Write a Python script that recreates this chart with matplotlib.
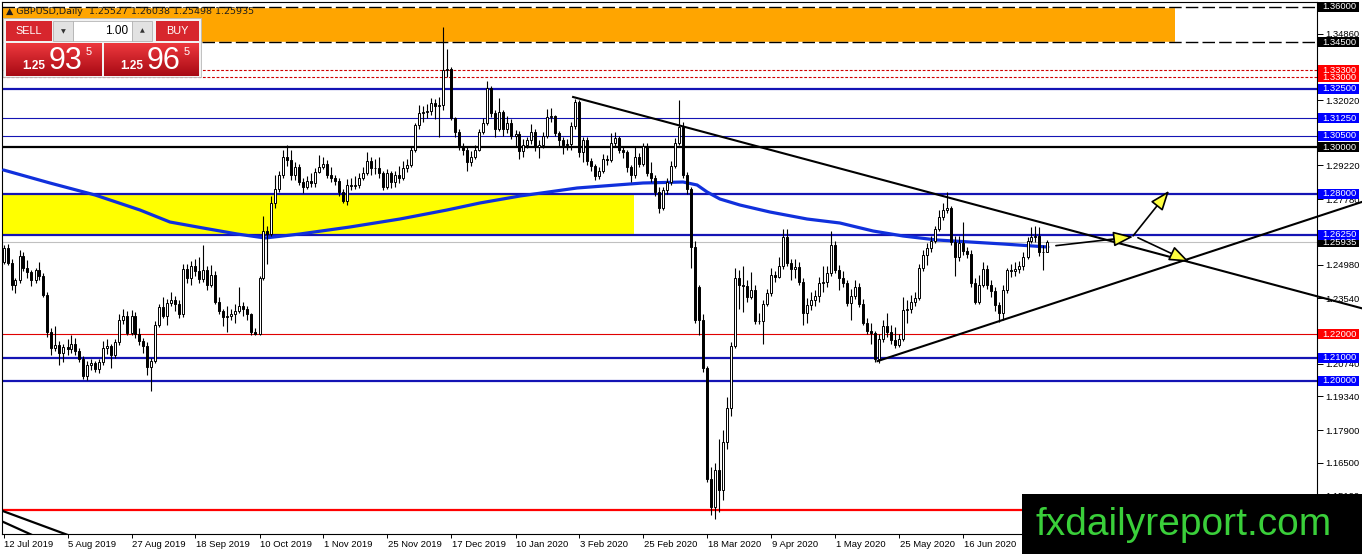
import matplotlib
matplotlib.use('Agg')
import matplotlib.pyplot as plt
import matplotlib.transforms as mtransforms
from matplotlib.patches import Rectangle, FancyArrowPatch
import numpy as np

plt.rcParams['font.family'] = ['Liberation Sans', 'DejaVu Sans']

# ---------------- data ----------------
opens = [1.2510, 1.2570, 1.2505, 1.2410, 1.2430, 1.2535, 1.2485, 1.2465, 1.2430, 1.2475,
         1.2448, 1.2370, 1.2210, 1.2140, 1.2155, 1.2120, 1.2145, 1.2135, 1.2160, 1.2130,
         1.2095, 1.2020, 1.2070, 1.2075, 1.2050, 1.2080, 1.2140, 1.2150, 1.2110, 1.2165,
         1.2260, 1.2280, 1.2205, 1.2280, 1.2200, 1.2170, 1.2150, 1.2060, 1.2085, 1.2240,
         1.2315, 1.2280, 1.2335, 1.2345, 1.2330, 1.2285, 1.2480, 1.2440, 1.2490, 1.2470,
         1.2435, 1.2475, 1.2410, 1.2455, 1.2340, 1.2300, 1.2275, 1.2280, 1.2285, 1.2300,
         1.2320, 1.2310, 1.2285, 1.2210, 1.2200, 1.2440, 1.2640, 1.2630, 1.2760, 1.2820,
         1.2880, 1.2960, 1.2945, 1.2880, 1.2915, 1.2850, 1.2830, 1.2855, 1.2845, 1.2895,
         1.2915, 1.2930, 1.2880, 1.2870, 1.2855, 1.2810, 1.2770, 1.2840, 1.2835, 1.2840,
         1.2870, 1.2890, 1.2940, 1.2910, 1.2912, 1.2890, 1.2830, 1.2890, 1.2850, 1.2880,
         1.2870, 1.2910, 1.2925, 1.2990, 1.3095, 1.3145, 1.3150, 1.3155, 1.3190, 1.3175,
         1.3180, 1.3330, 1.3335, 1.3125, 1.3065, 1.3000, 1.2990, 1.2935, 1.2960, 1.2990,
         1.3065, 1.3105, 1.3255, 1.3145, 1.3080, 1.3150, 1.3080, 1.3105, 1.3050, 1.3055,
         1.2985, 1.3010, 1.3030, 1.3065, 1.3000, 1.3010, 1.3050, 1.3130, 1.3135, 1.3060,
         1.3030, 1.3010, 1.3012, 1.3090, 1.3195, 1.2980, 1.3030, 1.2940, 1.2920, 1.2875,
         1.2900, 1.2950, 1.2945, 1.3020, 1.3040, 1.2990, 1.2980, 1.2915, 1.2880, 1.2960,
         1.2930, 1.3005, 1.2890, 1.2870, 1.2810, 1.2740, 1.2815, 1.2850, 1.2920, 1.3020,
         1.3085, 1.2880, 1.2820, 1.2575, 1.2400, 1.2260, 1.2055, 1.1580, 1.1460, 1.1620,
         1.1535, 1.1740, 1.1885, 1.2150, 1.2440, 1.2410, 1.2405, 1.2360, 1.2390, 1.2255,
         1.2258, 1.2330, 1.2375, 1.2455, 1.2445, 1.2490, 1.2615, 1.2505, 1.2480, 1.2488,
         1.2425, 1.2290, 1.2325, 1.2345, 1.2365, 1.2420, 1.2425, 1.2460, 1.2580, 1.2475,
         1.2440, 1.2420, 1.2335, 1.2365, 1.2400, 1.2330, 1.2250, 1.2215, 1.2205, 1.2095,
         1.2180, 1.2235, 1.2210, 1.2175, 1.2155, 1.2180, 1.2305, 1.2310, 1.2340, 1.2355,
         1.2485, 1.2540, 1.2570, 1.2600, 1.2650, 1.2700, 1.2730, 1.2740, 1.2595, 1.2530,
         1.2590, 1.2555, 1.2545, 1.2420, 1.2340, 1.2410, 1.2480, 1.2411, 1.2385, 1.2325,
         1.2290, 1.2390, 1.2475, 1.2470, 1.2480, 1.2490, 1.2530, 1.2600, 1.2615, 1.2620,
         1.2550, 1.25527]

highs = [1.2580, 1.2585, 1.2520, 1.2440, 1.2560, 1.2550, 1.2518, 1.2475, 1.2485, 1.2510,
         1.2460, 1.2380, 1.2225, 1.2235, 1.2170, 1.2160, 1.2180, 1.2197, 1.2185, 1.2140,
         1.2105, 1.2085, 1.2095, 1.2085, 1.2095, 1.2170, 1.2180, 1.2160, 1.2180, 1.2285,
         1.2310, 1.2300, 1.2305, 1.2295, 1.2227, 1.2185, 1.2165, 1.2100, 1.2255, 1.2330,
         1.2360, 1.2350, 1.2380, 1.2365, 1.2345, 1.2500, 1.2500, 1.2515, 1.2520, 1.2530,
         1.2580, 1.2490, 1.2496, 1.2470, 1.2360, 1.2310, 1.2320, 1.2310, 1.2330, 1.2402,
         1.2340, 1.2320, 1.2290, 1.2225, 1.2450, 1.2705, 1.2665, 1.2790, 1.2880, 1.2900,
         1.2990, 1.3010, 1.2990, 1.2935, 1.2930, 1.2870, 1.2875, 1.2890, 1.2910, 1.2967,
         1.2960, 1.2945, 1.2916, 1.2880, 1.2870, 1.2820, 1.2865, 1.2870, 1.2875, 1.2890,
         1.2915, 1.2980, 1.2960, 1.2950, 1.2960, 1.2900, 1.2905, 1.2900, 1.2900, 1.2920,
         1.2940, 1.2950, 1.3000, 1.3105, 1.3181, 1.3175, 1.3185, 1.3211, 1.3205, 1.3215,
         1.3514, 1.3420, 1.3345, 1.3130, 1.3080, 1.3020, 1.3000, 1.2985, 1.3010, 1.3080,
         1.3125, 1.3285, 1.3260, 1.3160, 1.3211, 1.3160, 1.3135, 1.3120, 1.3075, 1.3070,
         1.3035, 1.3045, 1.3100, 1.3080, 1.3030, 1.3065, 1.3165, 1.3170, 1.3140, 1.3070,
         1.3045, 1.3035, 1.3110, 1.3208, 1.3200, 1.3045, 1.3045, 1.2955, 1.2930, 1.2915,
         1.2970, 1.2965, 1.3060, 1.3065, 1.3050, 1.3000, 1.2990, 1.2925, 1.3000, 1.2975,
         1.3020, 1.3020, 1.2935, 1.2880, 1.2830, 1.2830, 1.2870, 1.2940, 1.3040, 1.3200,
         1.3110, 1.2895, 1.2830, 1.2600, 1.2410, 1.2285, 1.2065, 1.1630, 1.1650, 1.1750,
         1.1790, 1.1930, 1.2167, 1.2485, 1.2475, 1.2490, 1.2430, 1.2465, 1.2410, 1.2290,
         1.2345, 1.2395, 1.2483, 1.2470, 1.2530, 1.2650, 1.2650, 1.2520, 1.2520, 1.2510,
         1.2440, 1.2355, 1.2380, 1.2390, 1.2445, 1.2490, 1.2490, 1.2640, 1.2600, 1.2495,
         1.2470, 1.2430, 1.2395, 1.2432, 1.2420, 1.2350, 1.2270, 1.2250, 1.2215, 1.2200,
         1.2260, 1.2290, 1.2240, 1.2230, 1.2200, 1.2360, 1.2345, 1.2370, 1.2380, 1.2500,
         1.2560, 1.2591, 1.2620, 1.2665, 1.2730, 1.2760, 1.2810, 1.2750, 1.2620, 1.2620,
         1.2680, 1.2575, 1.2560, 1.2440, 1.2455, 1.2510, 1.2495, 1.2430, 1.2400, 1.2340,
         1.2410, 1.2485, 1.2500, 1.2510, 1.2515, 1.2550, 1.2615, 1.2659, 1.2665, 1.2660,
         1.2580, 1.26038]

lows = [1.2500, 1.2495, 1.2390, 1.2377, 1.2420, 1.2470, 1.2440, 1.2405, 1.2420, 1.2430,
        1.2360, 1.2190, 1.2111, 1.2130, 1.2070, 1.2080, 1.2110, 1.2120, 1.2110, 1.2080,
        1.2010, 1.2004, 1.2045, 1.2040, 1.2035, 1.2070, 1.2115, 1.2056, 1.2100, 1.2155,
        1.2245, 1.2195, 1.2195, 1.2185, 1.2155, 1.2120, 1.2026, 1.1958, 1.2075, 1.2230,
        1.2270, 1.2240, 1.2320, 1.2300, 1.2270, 1.2275, 1.2420, 1.2410, 1.2450, 1.2420,
        1.2425, 1.2390, 1.2400, 1.2330, 1.2285, 1.2235, 1.2210, 1.2260, 1.2250, 1.2290,
        1.2280, 1.2260, 1.2195, 1.2195, 1.2195, 1.2430, 1.2500, 1.2620, 1.2740, 1.2810,
        1.2870, 1.2920, 1.2860, 1.2860, 1.2840, 1.2805, 1.2820, 1.2830, 1.2830, 1.2890,
        1.2905, 1.2870, 1.2850, 1.2840, 1.2790, 1.2762, 1.2755, 1.2815, 1.2820, 1.2825,
        1.2860, 1.2880, 1.2880, 1.2885, 1.2870, 1.2815, 1.2820, 1.2825, 1.2830, 1.2845,
        1.2860, 1.2895, 1.2915, 1.2980, 1.3080, 1.3110, 1.3125, 1.3140, 1.3120, 1.3045,
        1.3160, 1.3300, 1.3115, 1.3044, 1.2990, 1.2965, 1.2900, 1.2920, 1.2950, 1.2985,
        1.3055, 1.3095, 1.3130, 1.3045, 1.3070, 1.3050, 1.3060, 1.3035, 1.3000, 1.2950,
        1.2960, 1.2995, 1.3015, 1.2985, 1.2954, 1.2995, 1.3040, 1.3110, 1.3050, 1.3000,
        1.2970, 1.2990, 1.2990, 1.3080, 1.2960, 1.2937, 1.2925, 1.2900, 1.2860, 1.2865,
        1.2890, 1.2925, 1.2935, 1.3000, 1.2975, 1.2955, 1.2895, 1.2851, 1.2870, 1.2915,
        1.2920, 1.2875, 1.2850, 1.2790, 1.2719, 1.2730, 1.2800, 1.2840, 1.2910, 1.3010,
        1.2870, 1.2800, 1.2485, 1.2250, 1.2197, 1.2040, 1.1570, 1.1427, 1.1409, 1.1440,
        1.1491, 1.1710, 1.1850, 1.2140, 1.2310, 1.2295, 1.2340, 1.2350, 1.2245, 1.2245,
        1.2160, 1.2320, 1.2365, 1.2425, 1.2440, 1.2480, 1.2490, 1.2432, 1.2440, 1.2410,
        1.2240, 1.2250, 1.2305, 1.2320, 1.2340, 1.2380, 1.2400, 1.2450, 1.2460, 1.2390,
        1.2400, 1.2320, 1.2261, 1.2350, 1.2315, 1.2240, 1.2200, 1.2160, 1.2081, 1.2075,
        1.2165, 1.2190, 1.2160, 1.2140, 1.2145, 1.2170, 1.2248, 1.2290, 1.2320, 1.2345,
        1.2470, 1.2496, 1.2550, 1.2590, 1.2640, 1.2690, 1.2720, 1.2580, 1.2450, 1.2515,
        1.2540, 1.2525, 1.2400, 1.2330, 1.2330, 1.2400, 1.2395, 1.2360, 1.2300, 1.2252,
        1.2261, 1.2375, 1.2445, 1.2450, 1.2460, 1.2475, 1.2520, 1.2590, 1.2595, 1.2535,
        1.2475, 1.25498]

closes = [1.2570, 1.2505, 1.2410, 1.2430, 1.2535, 1.2485, 1.2465, 1.2430, 1.2475, 1.2448,
          1.2370, 1.2210, 1.2140, 1.2155, 1.2120, 1.2145, 1.2135, 1.2160, 1.2130, 1.2095,
          1.2020, 1.2070, 1.2075, 1.2050, 1.2080, 1.2140, 1.2150, 1.2110, 1.2165, 1.2260,
          1.2280, 1.2205, 1.2280, 1.2200, 1.2170, 1.2150, 1.2060, 1.2085, 1.2240, 1.2315,
          1.2280, 1.2335, 1.2345, 1.2330, 1.2285, 1.2480, 1.2440, 1.2490, 1.2470, 1.2435,
          1.2475, 1.2410, 1.2455, 1.2340, 1.2300, 1.2275, 1.2280, 1.2285, 1.2300, 1.2320,
          1.2310, 1.2285, 1.2210, 1.2200, 1.2440, 1.2640, 1.2630, 1.2760, 1.2820, 1.2880,
          1.2960, 1.2945, 1.2880, 1.2915, 1.2850, 1.2830, 1.2855, 1.2845, 1.2895, 1.2915,
          1.2930, 1.2880, 1.2870, 1.2855, 1.2810, 1.2770, 1.2840, 1.2835, 1.2840, 1.2870,
          1.2890, 1.2940, 1.2910, 1.2912, 1.2890, 1.2830, 1.2890, 1.2850, 1.2880, 1.2870,
          1.2910, 1.2925, 1.2990, 1.3095, 1.3145, 1.3150, 1.3155, 1.3190, 1.3175, 1.3180,
          1.3330, 1.3335, 1.3125, 1.3065, 1.3000, 1.2990, 1.2935, 1.2960, 1.2990, 1.3065,
          1.3105, 1.3255, 1.3145, 1.3080, 1.3150, 1.3080, 1.3105, 1.3050, 1.3055, 1.2985,
          1.3010, 1.3030, 1.3065, 1.3000, 1.3010, 1.3050, 1.3130, 1.3135, 1.3060, 1.3030,
          1.3010, 1.3012, 1.3090, 1.3195, 1.2980, 1.3030, 1.2940, 1.2920, 1.2875, 1.2900,
          1.2950, 1.2945, 1.3020, 1.3040, 1.2990, 1.2980, 1.2915, 1.2880, 1.2960, 1.2930,
          1.3005, 1.2890, 1.2870, 1.2810, 1.2740, 1.2815, 1.2850, 1.2920, 1.3020, 1.3085,
          1.2880, 1.2820, 1.2575, 1.2260, 1.2260, 1.2055, 1.1580, 1.1460, 1.1620, 1.1535,
          1.1740, 1.1885, 1.2150, 1.2440, 1.2410, 1.2405, 1.2360, 1.2390, 1.2255, 1.2258,
          1.2330, 1.2375, 1.2455, 1.2445, 1.2490, 1.2615, 1.2505, 1.2480, 1.2488, 1.2425,
          1.2290, 1.2325, 1.2345, 1.2365, 1.2420, 1.2425, 1.2460, 1.2580, 1.2475, 1.2440,
          1.2420, 1.2335, 1.2365, 1.2400, 1.2330, 1.2250, 1.2215, 1.2205, 1.2095, 1.2180,
          1.2235, 1.2210, 1.2175, 1.2155, 1.2180, 1.2305, 1.2310, 1.2340, 1.2355, 1.2485,
          1.2540, 1.2570, 1.2600, 1.2650, 1.2700, 1.2730, 1.2740, 1.2595, 1.2530, 1.2590,
          1.2555, 1.2545, 1.2420, 1.2340, 1.2410, 1.2480, 1.2411, 1.2385, 1.2325, 1.2290,
          1.2390, 1.2475, 1.2470, 1.2480, 1.2490, 1.2530, 1.2600, 1.2615, 1.2620, 1.2550,
          1.2553, 1.25935]

date_labels = ['12 Jul 2019', '5 Aug 2019', '27 Aug 2019', '18 Sep 2019', '10 Oct 2019',
               '1 Nov 2019', '25 Nov 2019', '17 Dec 2019', '10 Jan 2020', '3 Feb 2020',
               '25 Feb 2020', '18 Mar 2020', '9 Apr 2020', '1 May 2020', '25 May 2020',
               '16 Jun 2020']
date_tick_bars = [0, 16, 32, 48, 64, 80, 96, 112, 128, 144, 160, 176, 192, 208, 224, 240]

price_ticks = [1.34860, 1.32020, 1.29220, 1.27780, 1.24980, 1.23540,
               1.20740, 1.19340, 1.17900, 1.16500, 1.15100]

# moving average
ma_bars = [0, 11.6, 22.9, 34.1, 41.6, 49.9, 58.4, 65.4, 74.1, 86.6, 99.1, 110.9, 119.1,
           129.1, 143.4, 159.9, 169.9, 173.4, 175.9, 179.1, 184.1, 191.6, 200.9, 209.1,
           217.4, 224.9, 233.4, 241.6, 249.9, 261.1]
ma_values = [1.29027, 1.28471, 1.27957, 1.27316, 1.26802, 1.26545, 1.26289, 1.26118,
             1.26289, 1.26588, 1.26930, 1.27316, 1.27615, 1.27914, 1.28257, 1.28471,
             1.28513, 1.28385, 1.28086, 1.27786, 1.27529, 1.27230, 1.26930, 1.26759,
             1.26417, 1.26203, 1.26032, 1.25947, 1.25861, 1.25733]

# horizontal levels
levels_blue_thick = [1.3250, 1.2800, 1.2625, 1.2100, 1.2000]
levels_blue_thin = [1.3125, 1.3050]
levels_black = [1.3000]
levels_red_thin = [1.2200]
levels_red_thick = [1.1450]
levels_red_dashed = [1.3330, 1.3300]
levels_black_dashed = [1.3600, 1.3450]
current_price = 1.25935

# zones (low, high, end bar)
orange_zone = (1.3450, 1.3600, 292.9)
yellow_zone = (1.2625, 1.2800, 157.6)

# trend lines (bar, price)
trend_down = ([142.4, 339.6], [1.3215, 1.2311])
trend_up = ([218.5, 339.6], [1.2085, 1.2766])
corner_lines = [([-0.2, 17.0], [1.14439, 1.13354]), ([-0.2, 8.0], [1.13981, 1.13346])]

# projection arrows ((bar, price) -> (bar, price))
arrows = [((263.1, 1.2579), (282.4, 1.2617)),
          ((282.4, 1.2621), (291.4, 1.2814)),
          ((283.6, 1.2613), (296.4, 1.2510))]

# labels on the price scale (value, box colour) in drawing order
level_boxes = [(1.36000, '#000000'), (1.34500, '#000000'), (1.33000, '#FF0000'),
               (1.33300, '#FF0000'), (1.32500, '#0000FF'), (1.31250, '#0000FF'),
               (1.30500, '#0000FF'), (1.30000, '#000000'), (1.28000, '#0000FF'),
               (1.25935, '#000000'), (1.26250, '#0000FF'), (1.22000, '#FF0000'),
               (1.21000, '#0000FF'), (1.20000, '#0000FF')]

# ---------------- figure ----------------
W, H = 1362, 554
fig = plt.figure(figsize=(W / 100, H / 100), dpi=100)
fig.patch.set_facecolor('white')
PL, PR, PT, PB = 2, 1317, 2, 534
YTOP, YBOT = 1.362139, 1.134545
ax = fig.add_axes([PL / W, 1 - PB / H, (PR - PL) / W, (PB - PT) / H])
ax.set_facecolor('white')

o = np.array(opens); h = np.array(highs); l = np.array(lows); c = np.array(closes)
n = len(c)
idx = np.arange(n)

BLUE = '#1414B4'
# zones
ax.add_patch(Rectangle((-5, orange_zone[0]), orange_zone[2] + 5, orange_zone[1] - orange_zone[0],
                       facecolor='#FFA500', edgecolor='none', zorder=1))
ax.add_patch(Rectangle((-5, yellow_zone[0]), yellow_zone[2] + 5, yellow_zone[1] - yellow_zone[0],
                       facecolor='#FFFF00', edgecolor='none', zorder=1))

# levels
for v in levels_blue_thick:
    ax.axhline(v, color=BLUE, lw=1.6, zorder=2)
for v in levels_blue_thin:
    ax.axhline(v, color=BLUE, lw=0.8, zorder=2)
for v in levels_black:
    ax.axhline(v, color='black', lw=1.6, zorder=2)
for v in levels_red_thin:
    ax.axhline(v, color='#E00000', lw=0.8, zorder=2)
for v in levels_red_thick:
    ax.axhline(v, color='#FF0000', lw=1.6, zorder=2)
for v in levels_red_dashed:
    ax.axhline(v, color='#D00000', lw=0.8, dashes=(2.5, 1.6), zorder=2)
for v in levels_black_dashed:
    ax.axhline(v, color='white', lw=1.0, zorder=2)
    ax.axhline(v, color='black', lw=1.0, dashes=(9, 3), zorder=2)
ax.axhline(current_price, color='#C0C0C0', lw=0.8, zorder=2)

# moving average
ax.plot(ma_bars, ma_values, color='#1030DC', lw=2.3, zorder=3, solid_capstyle='round',
        solid_joinstyle='round')

# candles
ax.vlines(idx, l, h, color='black', lw=0.8, zorder=4)
up = c >= o
bot = np.minimum(o, c)
bh = np.maximum(np.abs(c - o), 0.00006)
ax.bar(idx[up], bh[up], bottom=bot[up], width=0.5, color='white', edgecolor='black',
       linewidth=0.7, zorder=5)
ax.bar(idx[~up], bh[~up], bottom=bot[~up], width=0.5, color='black', edgecolor='black',
       linewidth=0.7, zorder=5)

# trend lines
ax.plot(trend_down[0], trend_down[1], color='black', lw=1.5, zorder=6, clip_on=False)
ax.plot(trend_up[0], trend_up[1], color='black', lw=1.5, zorder=6, clip_on=False)
for xs, ys in corner_lines:
    ax.plot(xs, ys, color='black', lw=1.6, zorder=6)

for (p0, p1) in arrows:
    ax.add_patch(FancyArrowPatch(p0, p1, arrowstyle='-|>,head_length=1.1,head_width=0.42',
                                 mutation_scale=11, facecolor='#FFFF40', edgecolor='black',
                                 lw=1.2, shrinkA=0, shrinkB=0, zorder=7))

ax.set_xlim(-0.375, 328.375)
ax.set_ylim(YBOT, YTOP)

# axes styling
for s in ax.spines.values():
    s.set_color('black')
    s.set_linewidth(0.8)
ax.yaxis.tick_right()
ax.set_yticks(price_ticks)
ax.set_yticklabels(['%.5f' % v for v in price_ticks])
ax.tick_params(axis='y', length=4, width=0.7, pad=2, labelsize=6.8, colors='black')
ax.set_xticks(date_tick_bars)
ax.set_xticklabels(date_labels)
ax.tick_params(axis='x', length=3, width=0.7, pad=1.5, labelsize=6.8, colors='black')
off = mtransforms.ScaledTranslation(1 / 100, 0, fig.dpi_scale_trans)
for lab in ax.get_xticklabels():
    lab.set_horizontalalignment('left')
    lab.set_transform(lab.get_transform() + off)

# price scale label boxes
blend = mtransforms.blended_transform_factory(ax.transAxes, ax.transData)
px = 1.0 / (PR - PL)
py = (YTOP - YBOT) / (PB - PT)
for v, col in level_boxes:
    ax.add_patch(Rectangle((1.0 + 1 * px, v - 5 * py), 41 * px, 10 * py, transform=blend,
                           facecolor=col, edgecolor='none', clip_on=False, zorder=8))
    ax.text(1.0 + 5 * px, v, '%.5f' % v, transform=blend, ha='left', va='center',
            color='white', fontsize=6.8, clip_on=False, zorder=9)

# ---------------- overlay (panel & watermark) ----------------
ov = fig.add_axes([0, 0, 1, 1])
ov.axis('off')

ov.text(6, 11, '\u25b2 GBPUSD,Daily  1.25527 1.26038 1.25498 1.25935', fontsize=6.8,
        color='#1E1E1E', va='center', ha='left', family=['DejaVu Sans'])

ov.add_patch(Rectangle((3, 18), 198, 59, facecolor='#F2F2F2', edgecolor='#B8B8B8', lw=0.6, zorder=2))
ov.add_patch(Rectangle((6, 21), 46, 20, facecolor='#D7262D', edgecolor='none', zorder=3))
ov.add_patch(Rectangle((156, 21), 43, 20, facecolor='#D7262D', edgecolor='none', zorder=3))
ov.add_patch(Rectangle((53, 21), 20, 20, facecolor='#E2E2E2', edgecolor='#A8A8A8', lw=0.5, zorder=3))
ov.add_patch(Rectangle((132, 21), 20, 20, facecolor='#E2E2E2', edgecolor='#A8A8A8', lw=0.5, zorder=3))
ov.add_patch(Rectangle((73, 21), 59, 20, facecolor='white', edgecolor='#A8A8A8', lw=0.5, zorder=3))
ov.text(29, 31, 'SELL', color='white', fontsize=7.8, ha='center', va='center', zorder=4)
ov.text(177.5, 31, 'BUY', color='white', fontsize=7.8, ha='center', va='center', zorder=4)
ov.text(63, 31.5, '\u25bc', color='#333333', fontsize=4.5, ha='center', va='center', zorder=4,
        family=['DejaVu Sans'])
ov.text(142, 31, '\u25b2', color='#333333', fontsize=4.5, ha='center', va='center', zorder=4,
        family=['DejaVu Sans'])
ov.text(128, 31, '1.00', color='black', fontsize=8.5, ha='right', va='center', zorder=4)


def grad_box(x0, y0, w, hh):
    t = np.linspace(0, 1, 40)[:, None, None]
    top = np.array([0.93, 0.22, 0.24])
    btm = np.array([0.66, 0.04, 0.08])
    img = (1 - t) * top[None, None, :] + t * btm[None, None, :]
    ov.imshow(img, extent=(x0, x0 + w, y0 + hh, y0), aspect='auto', interpolation='bilinear',
              zorder=3)


grad_box(6, 43, 96, 33)
grad_box(104, 43, 95, 33)
for x1, x2, x3, big in [(22, 49, 86, '93'), (120, 147, 184, '96')]:
    ov.text(x1, 69, '1.25', color='white', fontsize=8.5, fontweight='bold', ha='left',
            va='baseline', zorder=5)
    ov.text(x2, 69, big, color='white', fontsize=22, ha='left', va='baseline', zorder=5)
    ov.text(x3, 55, '5', color='white', fontsize=8, ha='left', va='baseline', zorder=5)

# watermark
ov.add_patch(Rectangle((1022, 494), 340, 60, facecolor='black', edgecolor='none', zorder=10))
ov.text(1036, 535, 'fxdailyreport.com', color='#3ACF3A', fontsize=28, ha='left',
        va='baseline', zorder=11, family=['Liberation Sans'])

ov.set_xlim(0, W)
ov.set_ylim(H, 0)

fig.savefig('out.png', dpi=100)
